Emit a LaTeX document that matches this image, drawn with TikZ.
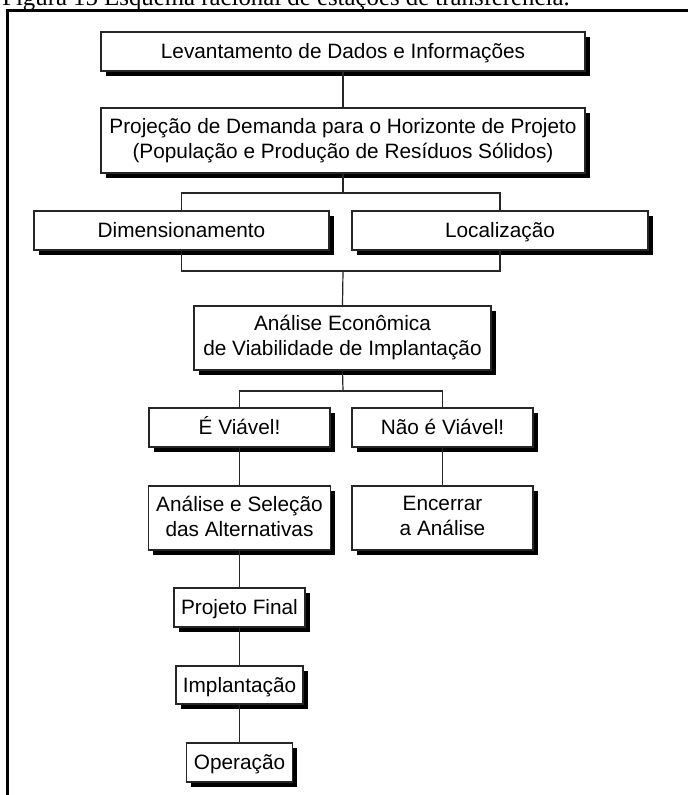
\documentclass[tikz,border=0pt]{standalone}
\usepackage{fontspec}
\setmainfont{Liberation Sans}
\newfontfamily\capfont{Liberation Serif}
\usetikzlibrary{shadows}

\definecolor{ink}{HTML}{262626}

% line strut: keeps every text line at the same height and depth,
% so single-line labels sit at the same level whatever their letters
\newcommand\lnstrut{\rule[-2.8pt]{0pt}{16.8pt}}

\tikzset{
  flowbox/.style 2 args={
    draw=ink, line width=0.9pt, fill=white, inner sep=0pt,
    minimum width=#1*0.75pt, minimum height=#2*0.75pt,
    align=center, font=\fontsize{15.6}{18.75}\selectfont,
    execute at begin node=\lnstrut,
    drop shadow={shadow xshift=3.4pt, shadow yshift=-3.6pt, fill=black, opacity=1}
  },
  link/.style={draw=ink, line width=0.9pt},
  frameline/.style={draw=black, line width=1.8pt}
}

\begin{document}
\begin{tikzpicture}[x=0.75pt, y=-0.75pt]
  % page area
  \clip (0,0) rectangle (688,795);
  \fill[white] (0,0) rectangle (688,795);

  % caption (its upper part runs past the top edge of the page)
  \node[anchor=base west, inner sep=0pt, font=\capfont\fontsize{18.6}{22}\selectfont]
    (caption) at (2,6) {Figura 15 Esquema racional de estações de transferência.};

  % surrounding frame
  \draw[frameline] (7.5,800) -- (7.5,10.5) -- (695,10.5);

  % boxes
  \node[flowbox={484}{39}] (lev)  at (343,51.5)  {Levantamento de Dados e Informações};
  \node[flowbox={484}{65}] (proj) at (343,140.5) {Projeção de Demanda para o Horizonte de Projeto\\\lnstrut(População e Produção de Resíduos Sólidos)};
  \node[flowbox={295}{39}] (dim)  at (181.5,230.5) {Dimensionamento};
  \node[flowbox={296}{39}] (loc)  at (500,230.5)   {Localização};
  \node[flowbox={297}{64}] (econ) at (342.5,338)   {Análise Econômica\\\lnstrut de Viabilidade de Implantação};
  \node[flowbox={181}{39}] (sim)  at (239.5,427.5) {É Viável!};
  \node[flowbox={181}{39}] (nao)  at (442.5,427.5) {Não é Viável!};
  \node[flowbox={182}{64}] (sel)  at (239.5,518)   {Análise e Seleção\\\lnstrut das Alternativas};
  \node[flowbox={181}{64}] (enc)  at (442.5,518)   {Encerrar\\\lnstrut a Análise};
  \node[flowbox={131}{39}] (fin)  at (239.5,607.5) {Projeto Final};
  \node[flowbox={127}{38}] (imp)  at (239.5,685)   {Implantação};
  \node[flowbox={106}{39}] (ope)  at (239.5,762.5) {Operação};

  % junction points of the branching connectors
  \coordinate (j1) at (343,193);
  \coordinate (j2) at (343,271);
  \coordinate (j3) at (343,391);

  % connectors
  \draw[link] (lev.south) -- (proj.north);
  \draw[link] (proj.south) -- (j1);
  \draw[link] (dim.north) |- (j1) -| (loc.north);
  \draw[link] (dim.south) |- (j2) -| (loc.south);
  \draw[link] (j2) -- (econ.north);
  \draw[link] (econ.south) -- (j3);
  \draw[link] (sim.north) |- (j3) -| (nao.north);
  \draw[link] (sim.south) -- (sel.north);
  \draw[link] (nao.south) -- (enc.north);
  \draw[link] (sel.south) -- (fin.north);
  \draw[link] (fin.south) -- (imp.north);
  \draw[link] (imp.south) -- (ope.north);
\end{tikzpicture}
\end{document}
